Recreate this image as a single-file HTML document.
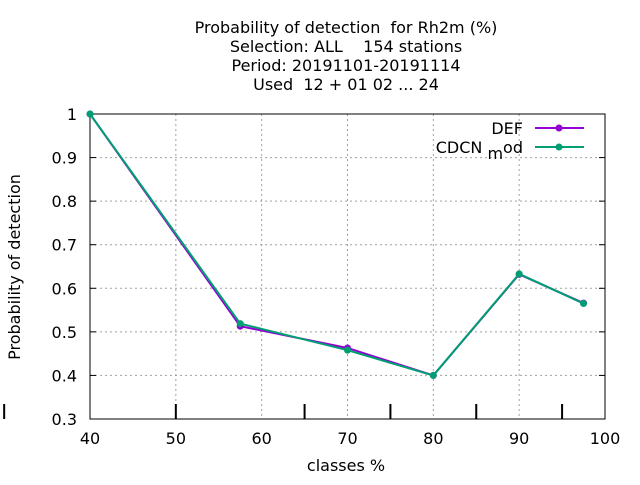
<!DOCTYPE html>
<html><head><meta charset="utf-8"><style>
body{margin:0;background:#fff}
svg{font-family:"DejaVu Sans",sans-serif;font-size:16px}
text{white-space:pre}
</style></head><body>
<svg id="chart" width="640" height="480" xmlns="http://www.w3.org/2000/svg" xml:space="preserve">
<g id="title" text-anchor="middle">
<text x="346" y="33">Probability of detection  for Rh2m (%)</text>
<text x="346" y="52">Selection: ALL    154 stations</text>
<text x="346" y="71">Period: 20191101-20191114</text>
<text x="346" y="90">Used  12 + 01 02 ... 24</text>
</g>
<g id="grid"></g>
<g id="axes"></g>
<g id="series"></g>
<text x="346" y="471" text-anchor="middle">classes %</text>
<text transform="translate(20,267) rotate(-90)" text-anchor="middle">Probability of detection</text>
<g>
<text x="523" y="134" text-anchor="end">DEF</text>
<line x1="535" y1="128" x2="584" y2="128" stroke="#9400d3" stroke-width="2"/>
<circle cx="559" cy="128" r="3.5" fill="#9400d3"/>
<text x="523" y="153" text-anchor="end">CDCN <tspan dy="6">m</tspan><tspan dy="-6">od</tspan></text>
<line x1="535" y1="147" x2="584" y2="147" stroke="#009e73" stroke-width="2"/>
<circle cx="559" cy="147" r="3.5" fill="#009e73"/>
</g>
</svg>
<script>
const xCats=[40,57.5,70,80,90,97.5];
const defVals=[1,0.513,0.463,0.4,0.632,0.566];
const cdcnVals=[1,0.519,0.458,0.4,0.633,0.565];
const xTicks=[40,50,60,70,80,90,100];
const yTicks=[0.3,0.4,0.5,0.6,0.7,0.8,0.9,1];
const extraTicks=[30,50,65,75,85,95];
const NS="http://www.w3.org/2000/svg";
const L=90,R=605,T=114,B=419;
const xs=v=>L+(v-40)/60*(R-L);
const ys=v=>B-(v-0.3)/0.7*(B-T);
function mk(tag,attrs,parent){const e=document.createElementNS(NS,tag);for(const k in attrs)e.setAttribute(k,attrs[k]);parent.appendChild(e);return e;}
const grid=document.getElementById('grid'),axes=document.getElementById('axes'),ser=document.getElementById('series');
xTicks.forEach(t=>{
 const x=xs(t);
 if(t>40&&t<100){const g=mk('line',{x1:x,x2:x,y1:T,y2:B,stroke:'#a0a0a0','stroke-dasharray':'2,3'},grid);
 
 }
 const tx=mk('text',{x:x,y:B+25,'text-anchor':'middle'},axes);tx.textContent=t;
 
 
});
yTicks.forEach(t=>{
 const y=ys(t);
 if(t>0.3&&t<1){const g=mk('line',{x1:L,x2:R,y1:y,y2:y,stroke:'#a0a0a0','stroke-dasharray':'2,3'},grid);
 
 
 mk('line',{x1:L,x2:L+6,y1:y,y2:y,stroke:'#000'},axes);mk('line',{x1:R-6,x2:R,y1:y,y2:y,stroke:'#000'},axes);}
 const tx=mk('text',{x:L-13,y:y+6,'text-anchor':'end'},axes);tx.textContent=t;
 
 
});
extraTicks.forEach(t=>{
 const x=xs(t);const l=mk('line',{x1:x,x2:x,y1:B-15,y2:B,stroke:'#000','stroke-width':2},axes);
 
 
});
const fr=mk('rect',{x:L,y:T,width:R-L,height:B-T,fill:'none',stroke:'#000'},axes);


function drawSeries(vals,color,name){
 const p=mk('polyline',{points:vals.map((v,i)=>xs(xCats[i])+','+ys(v)).join(' '),fill:'none',stroke:color,'stroke-width':2},ser);
 
 
 vals.forEach((v,i)=>{const c=mk('circle',{cx:xs(xCats[i]),cy:ys(v),r:3.5,fill:color},ser);
 
 });
}
drawSeries(defVals,'#9400d3','def');
drawSeries(cdcnVals,'#009e73','cdcn-mod');
</script>
</body></html>
